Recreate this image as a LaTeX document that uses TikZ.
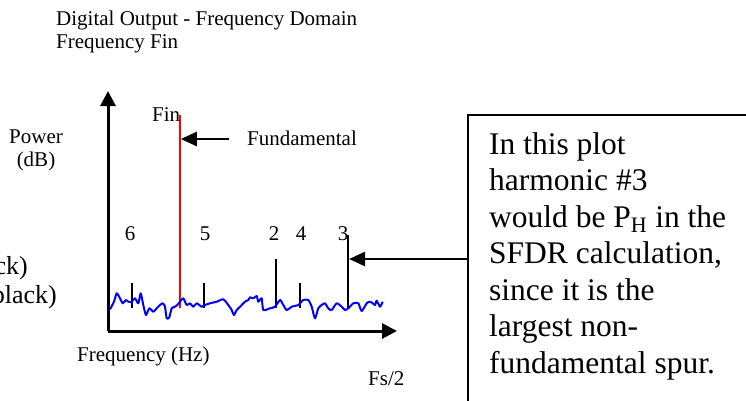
\documentclass[tikz,border=0pt]{standalone}
\usepackage{fontspec}
\setmainfont{Liberation Serif}
\usetikzlibrary{arrows.meta}
\begin{document}
\begin{tikzpicture}[x=1pt,y=-1pt,
  lbl/.style={inner sep=0pt,font=\fontsize{21}{23}\selectfont},
  sidelbl/.style={inner sep=0pt,anchor=base east,font=\fontsize{26}{28}\selectfont},
  axisline/.style={line width=3pt,-{Triangle[length=15pt,width=15pt]}},
  pointer/.style={line width=2.5pt,-{Triangle[length=16pt,width=14pt]}},
  harm/.style={line width=1.3pt,black},
  fund/.style={line width=1.6pt,red},
  noise/.style={line width=2pt,blue,line join=round},
  callout/.style={line width=1.3pt,black}]
\useasboundingbox (0,0) rectangle (746,400);
\clip (0,0) rectangle (746,400);
% title
\node[lbl,anchor=base west] (t1) at (56,25) {Digital Output - Frequency Domain};
\node[lbl,anchor=base west] (t2) at (56,48) {Frequency Fin};
% axes
\coordinate (origin) at (108,331);
\coordinate (ytip) at (108,91);
\coordinate (xtip) at (397,331);
\draw[axisline] (origin) -- (ytip);
\draw[axisline] (origin) -- (xtip);
% axis labels
\node[lbl,anchor=base,align=center] (power) at (36,166) {Power\\(dB)};
\node[lbl,anchor=base west] (freq) at (77,361) {Frequency (Hz)};
\node[lbl,anchor=base west] (fs) at (368,385) {Fs/2};
\node[sidelbl] (ck) at (28,274) {ck)};
\node[sidelbl] (blk) at (57,303) {black)};
% harmonics
\coordinate (h6b) at (132,308); \coordinate (h6t) at (132,283);
\coordinate (h5b) at (204,308); \coordinate (h5t) at (204,283);
\coordinate (h2b) at (276,308); \coordinate (h2t) at (276,259);
\coordinate (h4b) at (300,308); \coordinate (h4t) at (300,283);
\coordinate (h3b) at (348,308); \coordinate (h3t) at (348,235);
\draw[harm] (h6b) -- (h6t);
\draw[harm] (h5b) -- (h5t);
\draw[harm] (h2b) -- (h2t);
\draw[harm] (h4b) -- (h4t);
\draw[harm] (h3b) -- (h3t);
\node[lbl,anchor=base] (n6) at (130,240) {6};
\node[lbl,anchor=base] (n5) at (205,240) {5};
\node[lbl,anchor=base] (n2) at (274,240) {2};
\node[lbl,anchor=base] (n4) at (301,240) {4};
\node[lbl,anchor=base] (n3) at (343,240) {3};
% fundamental
\coordinate (fb) at (180,308);
\coordinate (ftop) at (180,115);
\draw[fund] (fb) -- (ftop);
\node[lbl,anchor=base west] (fin) at (152,121) {Fin};
\node[lbl,anchor=base west] (fundlbl) at (247,145) {Fundamental};
\coordinate (fa) at (229,139);
\coordinate (ftip) at (180.8,139);
\draw[pointer] (fa) -- (ftip);
% noise floor
\draw[noise] plot[smooth,tension=0.4] coordinates {
(110,309.3) (114,301.7) (116.7,293.3) (120,298.3) (122.7,303.3) (126,300)
(128.3,301.7) (131.7,301.7) (135,298.3) (138.3,303.3) (140.7,293.3) (143.3,305)
(146,315) (149.3,308.3) (153.3,311.7) (156.7,308.3) (160,305) (162.7,303.3)
(165,306.7) (166.7,318.3) (169.3,317.3) (171.7,308.3) (175,306.7) (177.3,305)
(180,301.7) (183.3,298.3) (186.7,305) (190,303.3) (193.3,306.7) (196.7,303.3)
(201.7,306.7) (205,305) (210,303.3) (216.7,301.7) (223.3,299.3) (228.3,305)
(231.7,310) (234,315) (236.7,310) (240,306.7) (245,301.7) (248.3,300)
(250,297.3) (253.3,298.3) (256.7,296) (258.3,301.7) (261.7,298.3) (263.3,310)
(270,308.3) (275,306.7) (280,300) (283.3,305) (286.7,310) (291.7,306.7)
(298.3,305) (303.3,300) (308.3,300) (311.7,306.7) (315,318.3) (318.3,308.3)
(321.7,305) (325,303.3) (328.3,308.3) (331.7,310) (336.7,303.3) (341.7,306.7)
(345,310) (348.3,308.3) (353.3,303.3) (358.3,303.3) (361.7,311) (366.7,303.3)
(370,301.7) (372.7,303.3) (375,305) (376.7,300.7) (380,306.7) (382.7,301.7)};
% callout box
\coordinate (boxtl) at (468,115);
\coordinate (boxbr) at (770,430);
\draw[callout] (boxtl) rectangle (boxbr);
\node[inner sep=0pt,anchor=base west,align=left,font=\fontsize{31.5}{36.5}\selectfont] (note) at (489,373)
 {In this plot\\harmonic \#3\\would be P\textsubscript{H} in the\\SFDR calculation,\\since it is the\\largest non-\\fundamental spur.};
\coordinate (boxl) at (468,259);
\coordinate (h3tip) at (349,259);
\draw[pointer] (boxl) -- (h3tip);
\end{tikzpicture}
\end{document}
